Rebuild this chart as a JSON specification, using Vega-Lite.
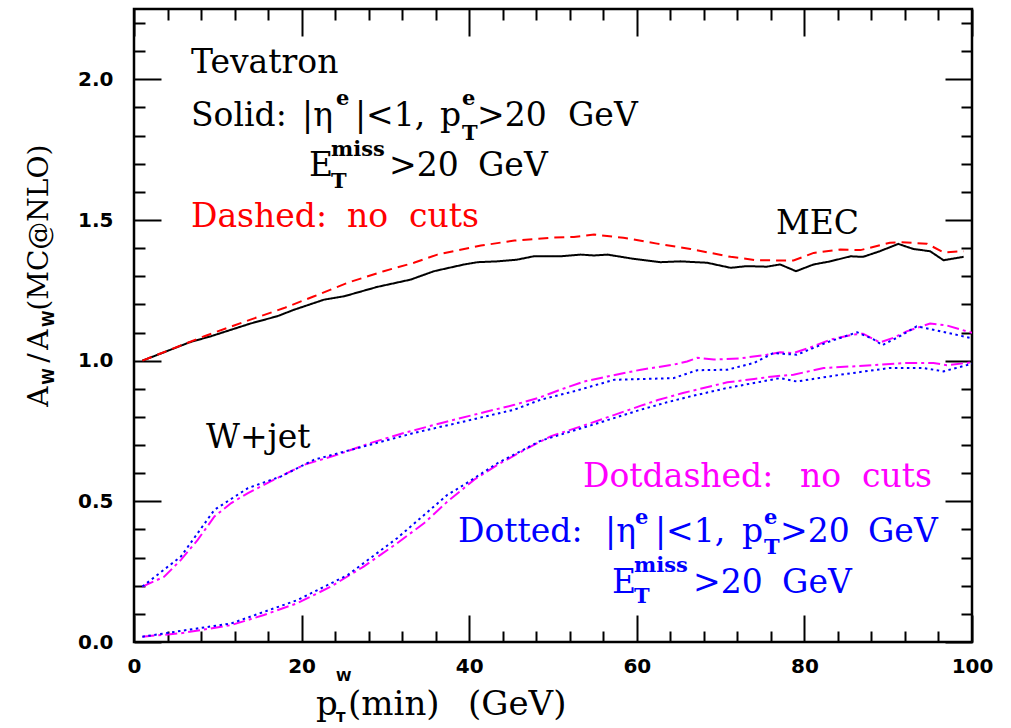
{
  "$schema": "https://vega.github.io/schema/vega-lite/v6.json",
  "width": 838,
  "height": 633,
  "autosize": {"type": "none"},
  "padding": {"left": 134, "top": 9, "right": 39, "bottom": 86},
  "background": "white",
  "config": {
    "view": {"stroke": "black", "strokeWidth": 2.5},
    "axis": {"grid": false, "domain": false, "title": null, "tickColor": "black", "tickWidth": 2, "labelColor": "black"}
  },
  "datasets": {
    "curves": [
      {"c": "MEC cuts", "s": "Solid", "x": 1.0, "y": 1.0},
      {"c": "MEC cuts", "s": "Solid", "x": 3.6, "y": 1.03},
      {"c": "MEC cuts", "s": "Solid", "x": 6.6, "y": 1.065},
      {"c": "MEC cuts", "s": "Solid", "x": 9.2, "y": 1.087},
      {"c": "MEC cuts", "s": "Solid", "x": 11.6, "y": 1.11},
      {"c": "MEC cuts", "s": "Solid", "x": 13.9, "y": 1.132},
      {"c": "MEC cuts", "s": "Solid", "x": 17.1, "y": 1.158},
      {"c": "MEC cuts", "s": "Solid", "x": 19.1, "y": 1.181},
      {"c": "MEC cuts", "s": "Solid", "x": 22.7, "y": 1.217},
      {"c": "MEC cuts", "s": "Solid", "x": 25.1, "y": 1.229},
      {"c": "MEC cuts", "s": "Solid", "x": 29.0, "y": 1.262},
      {"c": "MEC cuts", "s": "Solid", "x": 33.0, "y": 1.288},
      {"c": "MEC cuts", "s": "Solid", "x": 35.8, "y": 1.318},
      {"c": "MEC cuts", "s": "Solid", "x": 39.4, "y": 1.342},
      {"c": "MEC cuts", "s": "Solid", "x": 41.0, "y": 1.35},
      {"c": "MEC cuts", "s": "Solid", "x": 43.4, "y": 1.353},
      {"c": "MEC cuts", "s": "Solid", "x": 45.7, "y": 1.359},
      {"c": "MEC cuts", "s": "Solid", "x": 47.7, "y": 1.371},
      {"c": "MEC cuts", "s": "Solid", "x": 50.9, "y": 1.371},
      {"c": "MEC cuts", "s": "Solid", "x": 53.3, "y": 1.377},
      {"c": "MEC cuts", "s": "Solid", "x": 54.9, "y": 1.374},
      {"c": "MEC cuts", "s": "Solid", "x": 56.5, "y": 1.377},
      {"c": "MEC cuts", "s": "Solid", "x": 59.6, "y": 1.362},
      {"c": "MEC cuts", "s": "Solid", "x": 62.8, "y": 1.35},
      {"c": "MEC cuts", "s": "Solid", "x": 65.2, "y": 1.353},
      {"c": "MEC cuts", "s": "Solid", "x": 68.4, "y": 1.348},
      {"c": "MEC cuts", "s": "Solid", "x": 71.2, "y": 1.33},
      {"c": "MEC cuts", "s": "Solid", "x": 73.1, "y": 1.336},
      {"c": "MEC cuts", "s": "Solid", "x": 75.5, "y": 1.334},
      {"c": "MEC cuts", "s": "Solid", "x": 77.1, "y": 1.342},
      {"c": "MEC cuts", "s": "Solid", "x": 79.0, "y": 1.318},
      {"c": "MEC cuts", "s": "Solid", "x": 81.1, "y": 1.342},
      {"c": "MEC cuts", "s": "Solid", "x": 83.1, "y": 1.353},
      {"c": "MEC cuts", "s": "Solid", "x": 85.5, "y": 1.371},
      {"c": "MEC cuts", "s": "Solid", "x": 87.0, "y": 1.369},
      {"c": "MEC cuts", "s": "Solid", "x": 89.0, "y": 1.389},
      {"c": "MEC cuts", "s": "Solid", "x": 91.2, "y": 1.415},
      {"c": "MEC cuts", "s": "Solid", "x": 93.0, "y": 1.397},
      {"c": "MEC cuts", "s": "Solid", "x": 95.0, "y": 1.389},
      {"c": "MEC cuts", "s": "Solid", "x": 96.6, "y": 1.357},
      {"c": "MEC cuts", "s": "Solid", "x": 99.0, "y": 1.369},

      {"c": "MEC all", "s": "Dashed", "x": 1.0, "y": 1.0},
      {"c": "MEC all", "s": "Dashed", "x": 8.4, "y": 1.087},
      {"c": "MEC all", "s": "Dashed", "x": 13.9, "y": 1.146},
      {"c": "MEC all", "s": "Dashed", "x": 17.9, "y": 1.187},
      {"c": "MEC all", "s": "Dashed", "x": 21.5, "y": 1.229},
      {"c": "MEC all", "s": "Dashed", "x": 25.5, "y": 1.277},
      {"c": "MEC all", "s": "Dashed", "x": 29.8, "y": 1.318},
      {"c": "MEC all", "s": "Dashed", "x": 33.4, "y": 1.348},
      {"c": "MEC all", "s": "Dashed", "x": 36.2, "y": 1.377},
      {"c": "MEC all", "s": "Dashed", "x": 41.4, "y": 1.409},
      {"c": "MEC all", "s": "Dashed", "x": 45.4, "y": 1.427},
      {"c": "MEC all", "s": "Dashed", "x": 49.7, "y": 1.437},
      {"c": "MEC all", "s": "Dashed", "x": 52.5, "y": 1.44},
      {"c": "MEC all", "s": "Dashed", "x": 54.9, "y": 1.448},
      {"c": "MEC all", "s": "Dashed", "x": 58.4, "y": 1.437},
      {"c": "MEC all", "s": "Dashed", "x": 62.4, "y": 1.416},
      {"c": "MEC all", "s": "Dashed", "x": 66.4, "y": 1.397},
      {"c": "MEC all", "s": "Dashed", "x": 71.2, "y": 1.369},
      {"c": "MEC all", "s": "Dashed", "x": 74.3, "y": 1.357},
      {"c": "MEC all", "s": "Dashed", "x": 78.7, "y": 1.356},
      {"c": "MEC all", "s": "Dashed", "x": 81.1, "y": 1.383},
      {"c": "MEC all", "s": "Dashed", "x": 84.3, "y": 1.395},
      {"c": "MEC all", "s": "Dashed", "x": 86.7, "y": 1.393},
      {"c": "MEC all", "s": "Dashed", "x": 90.2, "y": 1.419},
      {"c": "MEC all", "s": "Dashed", "x": 91.4, "y": 1.421},
      {"c": "MEC all", "s": "Dashed", "x": 94.6, "y": 1.416},
      {"c": "MEC all", "s": "Dashed", "x": 96.6, "y": 1.385},
      {"c": "MEC all", "s": "Dashed", "x": 99.0, "y": 1.389},

      {"c": "Wjet A all", "s": "Dotdashed", "x": 1.0, "y": 0.197},
      {"c": "Wjet A all", "s": "Dotdashed", "x": 3.6, "y": 0.232},
      {"c": "Wjet A all", "s": "Dotdashed", "x": 5.6, "y": 0.292},
      {"c": "Wjet A all", "s": "Dotdashed", "x": 7.6, "y": 0.363},
      {"c": "Wjet A all", "s": "Dotdashed", "x": 9.6, "y": 0.446},
      {"c": "Wjet A all", "s": "Dotdashed", "x": 11.6, "y": 0.494},
      {"c": "Wjet A all", "s": "Dotdashed", "x": 13.6, "y": 0.529},
      {"c": "Wjet A all", "s": "Dotdashed", "x": 16.3, "y": 0.571},
      {"c": "Wjet A all", "s": "Dotdashed", "x": 20.3, "y": 0.63},
      {"c": "Wjet A all", "s": "Dotdashed", "x": 24.3, "y": 0.666},
      {"c": "Wjet A all", "s": "Dotdashed", "x": 28.2, "y": 0.707},
      {"c": "Wjet A all", "s": "Dotdashed", "x": 32.2, "y": 0.743},
      {"c": "Wjet A all", "s": "Dotdashed", "x": 37.4, "y": 0.784},
      {"c": "Wjet A all", "s": "Dotdashed", "x": 41.4, "y": 0.814},
      {"c": "Wjet A all", "s": "Dotdashed", "x": 45.4, "y": 0.843},
      {"c": "Wjet A all", "s": "Dotdashed", "x": 48.5, "y": 0.87},
      {"c": "Wjet A all", "s": "Dotdashed", "x": 50.9, "y": 0.897},
      {"c": "Wjet A all", "s": "Dotdashed", "x": 53.7, "y": 0.926},
      {"c": "Wjet A all", "s": "Dotdashed", "x": 56.5, "y": 0.944},
      {"c": "Wjet A all", "s": "Dotdashed", "x": 60.5, "y": 0.968},
      {"c": "Wjet A all", "s": "Dotdashed", "x": 64.4, "y": 0.986},
      {"c": "Wjet A all", "s": "Dotdashed", "x": 66.0, "y": 0.997},
      {"c": "Wjet A all", "s": "Dotdashed", "x": 67.2, "y": 1.01},
      {"c": "Wjet A all", "s": "Dotdashed", "x": 69.2, "y": 1.004},
      {"c": "Wjet A all", "s": "Dotdashed", "x": 72.3, "y": 1.008},
      {"c": "Wjet A all", "s": "Dotdashed", "x": 75.5, "y": 1.021},
      {"c": "Wjet A all", "s": "Dotdashed", "x": 77.1, "y": 1.03},
      {"c": "Wjet A all", "s": "Dotdashed", "x": 78.7, "y": 1.027},
      {"c": "Wjet A all", "s": "Dotdashed", "x": 81.1, "y": 1.051},
      {"c": "Wjet A all", "s": "Dotdashed", "x": 83.1, "y": 1.075},
      {"c": "Wjet A all", "s": "Dotdashed", "x": 85.9, "y": 1.093},
      {"c": "Wjet A all", "s": "Dotdashed", "x": 87.0, "y": 1.096},
      {"c": "Wjet A all", "s": "Dotdashed", "x": 89.0, "y": 1.065},
      {"c": "Wjet A all", "s": "Dotdashed", "x": 90.6, "y": 1.081},
      {"c": "Wjet A all", "s": "Dotdashed", "x": 92.2, "y": 1.104},
      {"c": "Wjet A all", "s": "Dotdashed", "x": 95.0, "y": 1.132},
      {"c": "Wjet A all", "s": "Dotdashed", "x": 97.0, "y": 1.125},
      {"c": "Wjet A all", "s": "Dotdashed", "x": 100.0, "y": 1.099},

      {"c": "Wjet A cuts", "s": "Dotted", "x": 1.0, "y": 0.197},
      {"c": "Wjet A cuts", "s": "Dotted", "x": 5.6, "y": 0.304},
      {"c": "Wjet A cuts", "s": "Dotted", "x": 9.6, "y": 0.47},
      {"c": "Wjet A cuts", "s": "Dotted", "x": 13.6, "y": 0.547},
      {"c": "Wjet A cuts", "s": "Dotted", "x": 17.5, "y": 0.588},
      {"c": "Wjet A cuts", "s": "Dotted", "x": 21.5, "y": 0.648},
      {"c": "Wjet A cuts", "s": "Dotted", "x": 27.4, "y": 0.695},
      {"c": "Wjet A cuts", "s": "Dotted", "x": 33.4, "y": 0.743},
      {"c": "Wjet A cuts", "s": "Dotted", "x": 39.4, "y": 0.784},
      {"c": "Wjet A cuts", "s": "Dotted", "x": 45.4, "y": 0.826},
      {"c": "Wjet A cuts", "s": "Dotted", "x": 48.5, "y": 0.861},
      {"c": "Wjet A cuts", "s": "Dotted", "x": 52.5, "y": 0.891},
      {"c": "Wjet A cuts", "s": "Dotted", "x": 57.3, "y": 0.932},
      {"c": "Wjet A cuts", "s": "Dotted", "x": 64.4, "y": 0.938},
      {"c": "Wjet A cuts", "s": "Dotted", "x": 67.2, "y": 0.966},
      {"c": "Wjet A cuts", "s": "Dotted", "x": 70.8, "y": 0.968},
      {"c": "Wjet A cuts", "s": "Dotted", "x": 74.0, "y": 0.992},
      {"c": "Wjet A cuts", "s": "Dotted", "x": 76.3, "y": 1.027},
      {"c": "Wjet A cuts", "s": "Dotted", "x": 79.1, "y": 1.021},
      {"c": "Wjet A cuts", "s": "Dotted", "x": 82.7, "y": 1.065},
      {"c": "Wjet A cuts", "s": "Dotted", "x": 86.3, "y": 1.101},
      {"c": "Wjet A cuts", "s": "Dotted", "x": 88.3, "y": 1.075},
      {"c": "Wjet A cuts", "s": "Dotted", "x": 89.3, "y": 1.055},
      {"c": "Wjet A cuts", "s": "Dotted", "x": 91.4, "y": 1.087},
      {"c": "Wjet A cuts", "s": "Dotted", "x": 93.4, "y": 1.122},
      {"c": "Wjet A cuts", "s": "Dotted", "x": 95.4, "y": 1.11},
      {"c": "Wjet A cuts", "s": "Dotted", "x": 99.8, "y": 1.081},

      {"c": "Wjet B all", "s": "Dotdashed", "x": 1.0, "y": 0.019},
      {"c": "Wjet B all", "s": "Dotdashed", "x": 5.6, "y": 0.031},
      {"c": "Wjet B all", "s": "Dotdashed", "x": 11.6, "y": 0.06},
      {"c": "Wjet B all", "s": "Dotdashed", "x": 15.5, "y": 0.096},
      {"c": "Wjet B all", "s": "Dotdashed", "x": 19.5, "y": 0.138},
      {"c": "Wjet B all", "s": "Dotdashed", "x": 23.5, "y": 0.197},
      {"c": "Wjet B all", "s": "Dotdashed", "x": 27.4, "y": 0.268},
      {"c": "Wjet B all", "s": "Dotdashed", "x": 31.4, "y": 0.351},
      {"c": "Wjet B all", "s": "Dotdashed", "x": 34.6, "y": 0.422},
      {"c": "Wjet B all", "s": "Dotdashed", "x": 37.4, "y": 0.499},
      {"c": "Wjet B all", "s": "Dotdashed", "x": 40.6, "y": 0.577},
      {"c": "Wjet B all", "s": "Dotdashed", "x": 43.4, "y": 0.63},
      {"c": "Wjet B all", "s": "Dotdashed", "x": 46.6, "y": 0.683},
      {"c": "Wjet B all", "s": "Dotdashed", "x": 49.7, "y": 0.731},
      {"c": "Wjet B all", "s": "Dotdashed", "x": 54.5, "y": 0.778},
      {"c": "Wjet B all", "s": "Dotdashed", "x": 60.5, "y": 0.84},
      {"c": "Wjet B all", "s": "Dotdashed", "x": 62.5, "y": 0.86},
      {"c": "Wjet B all", "s": "Dotdashed", "x": 65.5, "y": 0.885},
      {"c": "Wjet B all", "s": "Dotdashed", "x": 70.8, "y": 0.923},
      {"c": "Wjet B all", "s": "Dotdashed", "x": 74.0, "y": 0.935},
      {"c": "Wjet B all", "s": "Dotdashed", "x": 76.3, "y": 0.944},
      {"c": "Wjet B all", "s": "Dotdashed", "x": 78.7, "y": 0.95},
      {"c": "Wjet B all", "s": "Dotdashed", "x": 82.3, "y": 0.974},
      {"c": "Wjet B all", "s": "Dotdashed", "x": 88.3, "y": 0.984},
      {"c": "Wjet B all", "s": "Dotdashed", "x": 92.2, "y": 0.992},
      {"c": "Wjet B all", "s": "Dotdashed", "x": 95.4, "y": 0.992},
      {"c": "Wjet B all", "s": "Dotdashed", "x": 97.0, "y": 0.984},
      {"c": "Wjet B all", "s": "Dotdashed", "x": 100.0, "y": 0.994},

      {"c": "Wjet B cuts", "s": "Dotted", "x": 1.0, "y": 0.019},
      {"c": "Wjet B cuts", "s": "Dotted", "x": 11.6, "y": 0.066},
      {"c": "Wjet B cuts", "s": "Dotted", "x": 19.5, "y": 0.149},
      {"c": "Wjet B cuts", "s": "Dotted", "x": 25.5, "y": 0.238},
      {"c": "Wjet B cuts", "s": "Dotted", "x": 31.4, "y": 0.369},
      {"c": "Wjet B cuts", "s": "Dotted", "x": 37.4, "y": 0.523},
      {"c": "Wjet B cuts", "s": "Dotted", "x": 39.4, "y": 0.559},
      {"c": "Wjet B cuts", "s": "Dotted", "x": 43.4, "y": 0.636},
      {"c": "Wjet B cuts", "s": "Dotted", "x": 48.5, "y": 0.715},
      {"c": "Wjet B cuts", "s": "Dotted", "x": 54.5, "y": 0.77},
      {"c": "Wjet B cuts", "s": "Dotted", "x": 60.5, "y": 0.826},
      {"c": "Wjet B cuts", "s": "Dotted", "x": 63.6, "y": 0.852},
      {"c": "Wjet B cuts", "s": "Dotted", "x": 66.4, "y": 0.873},
      {"c": "Wjet B cuts", "s": "Dotted", "x": 70.8, "y": 0.903},
      {"c": "Wjet B cuts", "s": "Dotted", "x": 77.1, "y": 0.938},
      {"c": "Wjet B cuts", "s": "Dotted", "x": 79.1, "y": 0.926},
      {"c": "Wjet B cuts", "s": "Dotted", "x": 84.3, "y": 0.95},
      {"c": "Wjet B cuts", "s": "Dotted", "x": 90.2, "y": 0.974},
      {"c": "Wjet B cuts", "s": "Dotted", "x": 94.2, "y": 0.974},
      {"c": "Wjet B cuts", "s": "Dotted", "x": 96.6, "y": 0.962},
      {"c": "Wjet B cuts", "s": "Dotted", "x": 100.0, "y": 0.989}
    ],
    "notes": [
      {"t": "Tevatron", "x": 6.8, "y": 2.024, "role": "body", "s": "plain"},
      {"t": "Solid:", "x": 6.8, "y": 1.835, "role": "body", "s": "Solid"},
      {"t": "|η", "x": 20.05, "y": 1.835, "role": "body", "s": "Solid"},
      {"t": "|<1,", "x": 26.37, "y": 1.835, "role": "body", "s": "Solid"},
      {"t": "p", "x": 36.52, "y": 1.835, "role": "body", "s": "Solid"},
      {"t": ">20", "x": 40.93, "y": 1.835, "role": "body", "s": "Solid"},
      {"t": "GeV", "x": 51.79, "y": 1.835, "role": "body", "s": "Solid"},
      {"t": "E", "x": 20.88, "y": 1.657, "role": "body", "s": "Solid"},
      {"t": ">20", "x": 30.43, "y": 1.657, "role": "body", "s": "Solid"},
      {"t": "GeV", "x": 41.05, "y": 1.657, "role": "body", "s": "Solid"},
      {"t": "Dashed:", "x": 6.8, "y": 1.476, "role": "body", "s": "Dashed"},
      {"t": "no", "x": 25.42, "y": 1.476, "role": "body", "s": "Dashed"},
      {"t": "cuts", "x": 32.82, "y": 1.476, "role": "body", "s": "Dashed"},
      {"t": "MEC", "x": 76.61, "y": 1.452, "role": "body", "s": "plain"},
      {"t": "W+jet", "x": 8.59, "y": 0.691, "role": "body", "s": "plain"},
      {"t": "Dotdashed:", "x": 53.58, "y": 0.552, "role": "body", "s": "Dotdashed"},
      {"t": "no", "x": 79.47, "y": 0.552, "role": "body", "s": "Dotdashed"},
      {"t": "cuts", "x": 86.87, "y": 0.552, "role": "body", "s": "Dotdashed"},
      {"t": "Dotted:", "x": 38.66, "y": 0.357, "role": "body", "s": "Dotted"},
      {"t": "|η", "x": 56.21, "y": 0.357, "role": "body", "s": "Dotted"},
      {"t": "|<1,", "x": 62.17, "y": 0.357, "role": "body", "s": "Dotted"},
      {"t": "p", "x": 72.55, "y": 0.357, "role": "body", "s": "Dotted"},
      {"t": ">20", "x": 77.09, "y": 0.357, "role": "body", "s": "Dotted"},
      {"t": "GeV", "x": 87.59, "y": 0.357, "role": "body", "s": "Dotted"},
      {"t": "E", "x": 57.04, "y": 0.175, "role": "body", "s": "Dotted"},
      {"t": ">20", "x": 66.71, "y": 0.175, "role": "body", "s": "Dotted"},
      {"t": "GeV", "x": 77.33, "y": 0.175, "role": "body", "s": "Dotted"},

      {"t": "e", "x": 24.11, "y": 1.907, "role": "script", "s": "Solid"},
      {"t": "e", "x": 39.14, "y": 1.907, "role": "script", "s": "Solid"},
      {"t": "T", "x": 39.14, "y": 1.786, "role": "script", "s": "Solid"},
      {"t": "miss", "x": 23.51, "y": 1.727, "role": "script", "s": "Solid"},
      {"t": "T", "x": 23.51, "y": 1.615, "role": "script", "s": "Solid"},
      {"t": "e", "x": 59.79, "y": 0.4205, "role": "script", "s": "Dotted"},
      {"t": "e", "x": 75.18, "y": 0.4205, "role": "script", "s": "Dotted"},
      {"t": "T", "x": 75.18, "y": 0.314, "role": "script", "s": "Dotted"},
      {"t": "miss", "x": 59.67, "y": 0.25, "role": "script", "s": "Dotted"},
      {"t": "T", "x": 59.67, "y": 0.139, "role": "script", "s": "Dotted"},

      {"t": "p", "x": 21.72, "y": -0.2584, "role": "xtitle", "s": "plain"},
      {"t": "(min)", "x": 25.54, "y": -0.2584, "role": "xtitle", "s": "plain"},
      {"t": "(GeV)", "x": 39.86, "y": -0.2584, "role": "xtitle", "s": "plain"},
      {"t": "W", "x": 24.1, "y": -0.14, "role": "xscript", "s": "plain"},
      {"t": "T", "x": 24.1, "y": -0.286, "role": "xscript", "s": "plain"},

      {"t": "A", "x": -10.26, "y": 0.8365, "role": "ytitle", "s": "plain"},
      {"t": "/", "x": -10.26, "y": 0.993, "role": "ytitle", "s": "plain"},
      {"t": "A", "x": -10.26, "y": 1.039, "role": "ytitle", "s": "plain"},
      {"t": "(MC@NLO)", "x": -10.26, "y": 1.1778, "role": "ytitle", "s": "plain"},
      {"t": "W", "x": -9.55, "y": 0.9147, "role": "yscript", "s": "plain"},
      {"t": "W", "x": -9.55, "y": 1.12, "role": "yscript", "s": "plain"}
    ]
  },
  "resolve": {"axis": {"x": "independent", "y": "independent"}},
  "layer": [
    {
      "data": {"name": "curves"},
      "mark": {"type": "point", "opacity": 0},
      "encoding": {
        "x": {"field": "x", "type": "quantitative", "scale": {"domain": [0, 100], "nice": false, "zero": false},
              "axis": {"orient": "bottom", "values": [0, 20, 40, 60, 80, 100], "ticks": false, "labelPadding": 14, "labelFont": "DejaVu Sans", "labelFontSize": 20, "labelFontWeight": "bold", "labelFlush": false, "labelOverlap": false, "format": "d"}},
        "y": {"field": "y", "type": "quantitative", "scale": {"domain": [0, 2.25], "nice": false, "zero": false},
              "axis": {"orient": "left", "values": [0, 0.5, 1, 1.5, 2], "ticks": false, "labelPadding": 21, "labelFont": "DejaVu Sans", "labelFontSize": 20, "labelFontWeight": "bold", "labelFlush": false, "labelOverlap": false, "format": ".1f"}}
      }
    },
    {
      "data": {"name": "curves"},
      "mark": {"type": "point", "opacity": 0},
      "encoding": {
        "x": {"field": "x", "type": "quantitative", "scale": {"domain": [0, 100], "nice": false, "zero": false},
              "axis": {"orient": "bottom", "values": [0, 20, 40, 60, 80, 100], "labels": false, "tickSize": -27}},
        "y": {"field": "y", "type": "quantitative", "scale": {"domain": [0, 2.25], "nice": false, "zero": false},
              "axis": {"orient": "left", "values": [0, 0.5, 1, 1.5, 2], "labels": false, "tickSize": -27}}
      }
    },
    {
      "data": {"name": "curves"},
      "mark": {"type": "point", "opacity": 0},
      "encoding": {
        "x": {"field": "x", "type": "quantitative", "scale": {"domain": [0, 100], "nice": false, "zero": false},
              "axis": {"orient": "bottom", "values": [4, 8, 12, 16, 24, 28, 32, 36, 44, 48, 52, 56, 64, 68, 72, 76, 84, 88, 92, 96], "labels": false, "tickSize": -11}},
        "y": {"field": "y", "type": "quantitative", "scale": {"domain": [0, 2.25], "nice": false, "zero": false},
              "axis": {"orient": "left", "values": [0.1, 0.2, 0.3, 0.4, 0.6, 0.7, 0.8, 0.9, 1.1, 1.2, 1.3, 1.4, 1.6, 1.7, 1.8, 1.9, 2.1, 2.2], "labels": false, "tickSize": -11}}
      }
    },
    {
      "data": {"name": "curves"},
      "mark": {"type": "point", "opacity": 0},
      "encoding": {
        "x": {"field": "x", "type": "quantitative", "scale": {"domain": [0, 100], "nice": false, "zero": false},
              "axis": {"orient": "top", "values": [0, 20, 40, 60, 80, 100], "labels": false, "tickSize": -27}},
        "y": {"field": "y", "type": "quantitative", "scale": {"domain": [0, 2.25], "nice": false, "zero": false},
              "axis": {"orient": "right", "values": [0, 0.5, 1, 1.5, 2], "labels": false, "tickSize": -27}}
      }
    },
    {
      "data": {"name": "curves"},
      "mark": {"type": "point", "opacity": 0},
      "encoding": {
        "x": {"field": "x", "type": "quantitative", "scale": {"domain": [0, 100], "nice": false, "zero": false},
              "axis": {"orient": "top", "values": [4, 8, 12, 16, 24, 28, 32, 36, 44, 48, 52, 56, 64, 68, 72, 76, 84, 88, 92, 96], "labels": false, "tickSize": -11}},
        "y": {"field": "y", "type": "quantitative", "scale": {"domain": [0, 2.25], "nice": false, "zero": false},
              "axis": {"orient": "right", "values": [0.1, 0.2, 0.3, 0.4, 0.6, 0.7, 0.8, 0.9, 1.1, 1.2, 1.3, 1.4, 1.6, 1.7, 1.8, 1.9, 2.1, 2.2], "labels": false, "tickSize": -11}}
      }
    },
    {
      "data": {"name": "curves"},
      "mark": {"type": "line", "strokeWidth": 2, "strokeCap": "butt", "clip": true},
      "encoding": {
        "x": {"field": "x", "type": "quantitative", "scale": {"domain": [0, 100], "nice": false, "zero": false}, "axis": null},
        "y": {"field": "y", "type": "quantitative", "scale": {"domain": [0, 2.25], "nice": false, "zero": false}, "axis": null},
        "color": {"field": "s", "type": "nominal", "legend": null,
                  "scale": {"domain": ["plain", "Solid", "Dashed", "Dotdashed", "Dotted"], "range": ["#000000", "#000000", "#ff0000", "#ff00ff", "#0000ff"]}},
        "strokeDash": {"field": "s", "type": "nominal", "legend": null,
                       "scale": {"domain": ["Solid", "Dashed", "Dotdashed", "Dotted"], "range": [[1, 0], [10, 6], [12, 4, 3, 4], [2.5, 3.5]]}},
        "detail": {"field": "c"},
        "order": {"field": "x", "type": "quantitative"}
      }
    },
    {
      "data": {"name": "notes"},
      "transform": [{"filter": "datum.role === 'body'"}],
      "mark": {"type": "text", "align": "left", "baseline": "alphabetic", "font": "DejaVu Serif", "fontSize": 33},
      "encoding": {
        "x": {"field": "x", "type": "quantitative", "scale": {"domain": [0, 100], "nice": false, "zero": false}, "axis": null},
        "y": {"field": "y", "type": "quantitative", "scale": {"domain": [0, 2.25], "nice": false, "zero": false}, "axis": null},
        "text": {"field": "t"},
        "color": {"field": "s", "type": "nominal", "legend": null,
                  "scale": {"domain": ["plain", "Solid", "Dashed", "Dotdashed", "Dotted"], "range": ["#000000", "#000000", "#ff0000", "#ff00ff", "#0000ff"]}}
      }
    },
    {
      "data": {"name": "notes"},
      "transform": [{"filter": "datum.role === 'script'"}],
      "mark": {"type": "text", "align": "left", "baseline": "alphabetic", "font": "DejaVu Serif", "fontSize": 21, "fontWeight": "bold"},
      "encoding": {
        "x": {"field": "x", "type": "quantitative", "scale": {"domain": [0, 100], "nice": false, "zero": false}, "axis": null},
        "y": {"field": "y", "type": "quantitative", "scale": {"domain": [0, 2.25], "nice": false, "zero": false}, "axis": null},
        "text": {"field": "t"},
        "color": {"field": "s", "type": "nominal", "legend": null,
                  "scale": {"domain": ["plain", "Solid", "Dashed", "Dotdashed", "Dotted"], "range": ["#000000", "#000000", "#ff0000", "#ff00ff", "#0000ff"]}}
      }
    },
    {
      "data": {"name": "notes"},
      "transform": [{"filter": "datum.role === 'xtitle'"}],
      "mark": {"type": "text", "align": "left", "baseline": "alphabetic", "font": "DejaVu Serif", "fontSize": 34, "color": "black"},
      "encoding": {
        "x": {"field": "x", "type": "quantitative", "scale": {"domain": [0, 100], "nice": false, "zero": false}, "axis": null},
        "y": {"field": "y", "type": "quantitative", "scale": {"domain": [0, 2.25], "nice": false, "zero": false}, "axis": null},
        "text": {"field": "t"}
      }
    },
    {
      "data": {"name": "notes"},
      "transform": [{"filter": "datum.role === 'xscript'"}],
      "mark": {"type": "text", "align": "left", "baseline": "alphabetic", "font": "DejaVu Sans", "fontSize": 14, "fontWeight": "bold", "color": "black"},
      "encoding": {
        "x": {"field": "x", "type": "quantitative", "scale": {"domain": [0, 100], "nice": false, "zero": false}, "axis": null},
        "y": {"field": "y", "type": "quantitative", "scale": {"domain": [0, 2.25], "nice": false, "zero": false}, "axis": null},
        "text": {"field": "t"}
      }
    },
    {
      "data": {"name": "notes"},
      "transform": [{"filter": "datum.role === 'ytitle'"}],
      "mark": {"type": "text", "align": "left", "baseline": "alphabetic", "angle": 270, "font": "DejaVu Serif", "fontSize": 28, "color": "black"},
      "encoding": {
        "x": {"field": "x", "type": "quantitative", "scale": {"domain": [0, 100], "nice": false, "zero": false}, "axis": null},
        "y": {"field": "y", "type": "quantitative", "scale": {"domain": [0, 2.25], "nice": false, "zero": false}, "axis": null},
        "text": {"field": "t"}
      }
    },
    {
      "data": {"name": "notes"},
      "transform": [{"filter": "datum.role === 'yscript'"}],
      "mark": {"type": "text", "align": "left", "baseline": "alphabetic", "angle": 270, "font": "DejaVu Sans", "fontSize": 15, "fontWeight": "bold", "color": "black"},
      "encoding": {
        "x": {"field": "x", "type": "quantitative", "scale": {"domain": [0, 100], "nice": false, "zero": false}, "axis": null},
        "y": {"field": "y", "type": "quantitative", "scale": {"domain": [0, 2.25], "nice": false, "zero": false}, "axis": null},
        "text": {"field": "t"}
      }
    }
  ]
}
